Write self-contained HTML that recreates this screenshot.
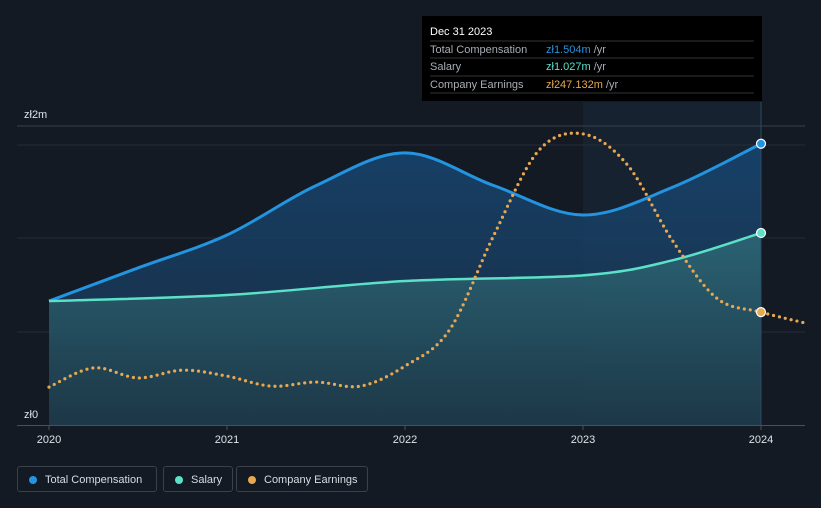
<!DOCTYPE html>
<html><head><meta charset="utf-8"><style>
body{margin:0;background:#131a24;font-family:"Liberation Sans",sans-serif;}
#wrap{position:relative;width:821px;height:508px;overflow:hidden;background:#131a24;}
.leg{position:absolute;top:466px;height:26px;border:1px solid #3a414c;border-radius:3px;color:#d8dce2;font-size:11px;line-height:26px;box-sizing:border-box;padding-left:27px;}
.leg i{position:absolute;left:11px;top:9px;width:8px;height:8px;border-radius:50%;}
</style></head><body>
<div id="wrap">
<svg id="chart" width="821" height="508" style="position:absolute;left:0;top:0"></svg>
<div class="leg" style="left:17px;width:140px"><i style="background:#2394df"></i>Total Compensation</div>
<div class="leg" style="left:163px;width:70px"><i style="background:#5ce0c8"></i>Salary</div>
<div class="leg" style="left:236px;width:132px"><i style="background:#e8a852"></i>Company Earnings</div>
</div>
<script>
const compT=[2020,2020.5,2021,2021.5,2022,2022.5,2023,2023.5,2024];
const compV=[0.663,0.84,1.016,1.28,1.455,1.28,1.123,1.27,1.504];
const salT=[2020,2021,2022,2023,2023.5,2024];
const salV=[0.663,0.695,0.77,0.80,0.88,1.027];
const earnT=[2020,2020.25,2020.5,2020.75,2021,2021.25,2021.5,2021.75,2022,2022.25,2022.5,2022.75,2023,2023.25,2023.5,2023.75,2024,2024.25];
const earnV=[0.083,0.125,0.103,0.12,0.107,0.085,0.094,0.085,0.129,0.208,0.416,0.60,0.637,0.569,0.405,0.278,0.247,0.223];
const xTicks=[2020,2021,2022,2023,2024];
const yLabels=["zł0","zł2m"];
const NS="http://www.w3.org/2000/svg";
const svg=document.getElementById('chart');
const X=t=>49+178*(t-2020);
const Y=v=>425-187*v;
const YE=v=>425-457*v;
function el(tag,attrs,parent){const e=document.createElementNS(NS,tag);for(const k in attrs)e.setAttribute(k,attrs[k]);(parent||svg).appendChild(e);return e;}
function path(pts){let d=`M${pts[0][0]},${pts[0][1]}`;for(let i=0;i<pts.length-1;i++){const p0=pts[i-1]||pts[i],p1=pts[i],p2=pts[i+1],p3=pts[i+2]||p2;
d+=` C${p1[0]+(p2[0]-p0[0])/6},${p1[1]+(p2[1]-p0[1])/6} ${p2[0]-(p3[0]-p1[0])/6},${p2[1]-(p3[1]-p1[1])/6} ${p2[0]},${p2[1]}`;}return d;}
const defs=el('defs',{});
defs.innerHTML='<linearGradient id="gc" x1="0" y1="0" x2="0" y2="1"><stop offset="0" stop-color="#17446e" stop-opacity="0.9"/><stop offset="1" stop-color="#1a3550" stop-opacity="0.7"/></linearGradient><linearGradient id="gs" x1="0" y1="0" x2="0" y2="1"><stop offset="0" stop-color="#2e6a78" stop-opacity="0.85"/><stop offset="1" stop-color="#1e3a48" stop-opacity="0.8"/></linearGradient>';
let r=el('rect',{x:X(2023),y:102,width:X(2024)-X(2023),height:323,fill:'#1b2838',opacity:0.6});

[126,145,238,332].forEach((y,i)=>{const l=el('line',{x1:17,x2:805,y1:y,y2:y,stroke:i==0?'#3a404a':'#252c37','stroke-width':1});});
const cp=compT.map((t,i)=>[X(t),Y(compV[i])]);
const sp=salT.map((t,i)=>[X(t),Y(salV[i])]);
const ep=earnT.map((t,i)=>[X(t),YE(earnV[i])]);
let a=el('path',{d:path(cp)+` L${X(2024)},425 L${X(2020)},425 Z`,fill:'url(#gc)'});
a=el('path',{d:path(sp)+` L${X(2024)},425 L${X(2020)},425 Z`,fill:'url(#gs)'});
let vl=el('line',{x1:X(2024),x2:X(2024),y1:102,y2:425,stroke:'#2a4a66','stroke-width':1});
let ax=el('line',{x1:17,x2:805,y1:425.5,y2:425.5,stroke:'#4a505a'});
let l1=el('path',{d:path(cp),fill:'none',stroke:'#2394df','stroke-width':3});
let l2=el('path',{d:path(sp),fill:'none',stroke:'#5ce0c8','stroke-width':2.5});
let l3=el('path',{d:path(ep),fill:'none',stroke:'#e8a852','stroke-width':3.2,'stroke-dasharray':'0 6','stroke-linecap':'round'});
[[Y(compV[compV.length-1]),'#2394df','total-compensation-marker'],[Y(salV[salV.length-1]),'#5ce0c8','salary-marker'],[YE(earnV[16]),'#e8a852','earnings-marker']].forEach(m=>{const c=el('circle',{cx:X(2024),cy:m[0],r:4.5,fill:m[1],stroke:'#fff','stroke-width':1.2});});
xTicks.forEach(t=>{const tk=el('line',{x1:X(t),x2:X(t),y1:425,y2:430,stroke:'#4a505a'});
const tx=el('text',{x:X(t),y:443,'text-anchor':'middle',fill:'#e0e3e8','font-size':11});tx.textContent=t;});
[[418,yLabels[0]],[118,yLabels[1]]].forEach(p=>{const tx=el('text',{x:24,y:p[0],fill:'#e0e3e8','font-size':11});tx.textContent=p[1];});
const tt=el('g',{});
el('rect',{x:422,y:16,width:340,height:85,fill:'#000'},tt);
const tl=el('text',{x:430,y:35,fill:'#fff','font-size':11});tl.textContent='Dec 31 2023';
[41,58,76,93].forEach(y=>el('line',{x1:430,x2:754,y1:y,y2:y,stroke:'#333'},tt));
[['Total Compensation','zł1.504m','#2394df',53],['Salary','zł1.027m','#5ce0c8',70],['Company Earnings','zł247.132m','#e8a852',88]].forEach(rw=>{
const a=el('text',{x:430,y:rw[3],fill:'#a8adb5','font-size':11});a.textContent=rw[0];
const b=el('text',{x:546,y:rw[3],fill:rw[2],'font-size':11});b.textContent=rw[1];
const s=el('tspan',{fill:'#a8adb5'},b);s.textContent=' /yr';});
</script>
</body></html>
